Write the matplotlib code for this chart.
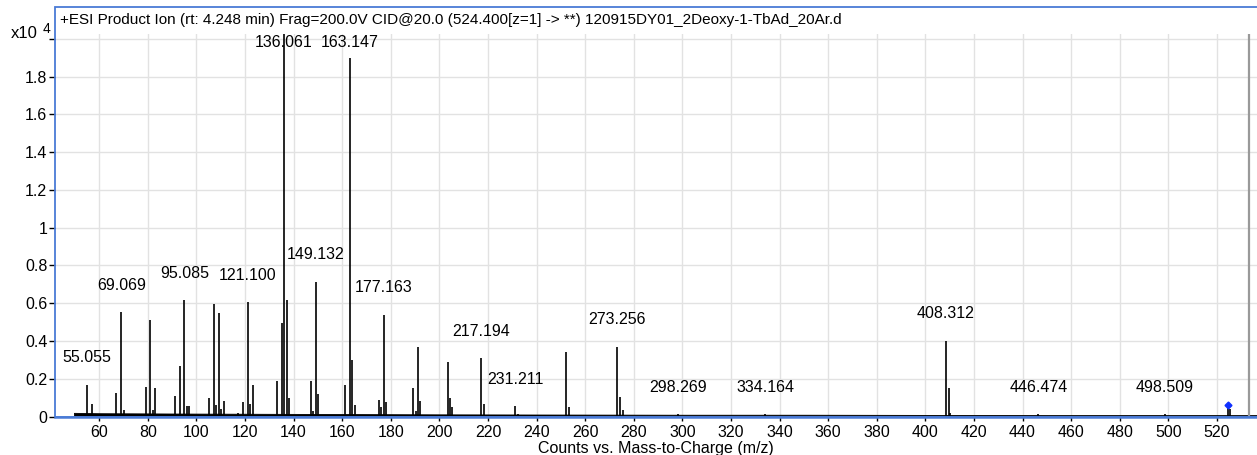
import matplotlib
matplotlib.use("Agg")
import matplotlib.pyplot as plt
from matplotlib.patches import Rectangle

plt.rcParams['font.family'] = ['Liberation Sans', 'DejaVu Sans']

# peak list (m/z, counts x10^4)
peak_mz = [55.055, 57.0, 67.0, 69.069, 70.1, 79.1, 81.0, 82.0, 83.1, 91.1, 93.1, 95.085,
           96.1, 97.1, 105.1, 107.1, 108.2, 109.2, 110.1, 111.2, 117.1, 119.1, 121.100,
           122.1, 123.2, 133.0, 135.1, 136.061, 137.2, 138.1, 147.2, 148.1, 149.132,
           150.2, 161.2, 163.147, 164.2, 165.1, 175.1, 176.1, 177.163, 178.1, 189.3,
           190.2, 191.2, 192.1, 203.4, 204.4, 205.3, 217.194, 218.2, 231.211, 232.3,
           252.2, 253.3, 273.256, 274.3, 275.4, 298.269, 334.164, 408.312, 409.6, 410.1,
           446.474, 498.509, 524.4, 525.4]
peak_int = [0.17, 0.066, 0.127, 0.553, 0.036, 0.157, 0.512, 0.036, 0.152, 0.107, 0.268, 0.616,
            0.057, 0.057, 0.096, 0.595, 0.062, 0.548, 0.04, 0.084, 0.02, 0.079, 0.604,
            0.066, 0.166, 0.186, 0.495, 2.03, 0.616, 0.10, 0.19, 0.03, 0.713,
            0.12, 0.17, 1.90, 0.30, 0.064, 0.09, 0.05, 0.54, 0.08, 0.15,
            0.03, 0.367, 0.083, 0.289, 0.097, 0.05, 0.31, 0.065, 0.056, 0.015,
            0.34, 0.05, 0.369, 0.106, 0.035, 0.012, 0.012, 0.402, 0.15, 0.02,
            0.012, 0.012, 0.055, 0.04]

labeled_mz = [55.055, 69.069, 95.085, 121.100, 136.061, 149.132, 163.147, 177.163,
              217.194, 231.211, 273.256, 298.269, 334.164, 408.312, 446.474, 498.509]

# baseline noise envelope
noise_mz = [49.6, 60, 100, 150, 200, 250, 300, 350, 400, 450, 500, 536.5]
noise_hi = [0.02, 0.018, 0.016, 0.014, 0.012, 0.011, 0.01, 0.01, 0.009, 0.008, 0.008, 0.008]

precursor_mz = 524.4
precursor_y = 0.06

title = "+ESI Product Ion (rt: 4.248 min) Frag=200.0V CID@20.0 (524.400[z=1] -> **) 120915DY01_2Deoxy-1-TbAd_20Ar.d"

W, H = 1257, 455
blue = '#4a7bd6'

fig = plt.figure(figsize=(W / 100, H / 100), dpi=100)
ax = fig.add_axes([55 / W, (H - 417) / H, (W - 55) / W, (417 - 34) / H])

ax.set_xlim(41.8, 536.5)
ax.set_ylim(-0.002, 2.025)

ax.fill_between(noise_mz, 0, noise_hi, color='black', lw=0.6)
ax.vlines(peak_mz, 0, peak_int, color='black', lw=1.2)
ax.plot([precursor_mz], [precursor_y], marker='D', ms=3.5, color='#1030ff', ls='none')
ax.axvline(533.2, color='#999999', lw=1.6)

lookup = dict(zip(peak_mz, peak_int))
for m in labeled_mz:
    y = min(lookup[m] + 0.143, 1.979)
    ax.text(m, y, f"{m:.3f}", ha='center', va='center', fontsize=11.5, color='black')

ax.set_xticks(range(60, 521, 20))
ax.set_yticks([0, 0.2, 0.4, 0.6, 0.8, 1.0, 1.2, 1.4, 1.6, 1.8, 2.0])
ax.set_yticklabels(['0', '0.2', '0.4', '0.6', '0.8', '1', '1.2', '1.4', '1.6', '1.8', ''])
ax.tick_params(axis='y', labelsize=11.5, length=4, width=1, pad=1.5, colors='black')
ax.tick_params(axis='x', labelsize=11.5, length=3, width=1, pad=2.5, colors='black')
ax.grid(True, color='#e2e2e2', lw=1)
ax.set_axisbelow(True)

for s in ['top', 'right', 'left']:
    ax.spines[s].set_visible(False)
ax.spines['bottom'].set_color(blue)
ax.spines['bottom'].set_linewidth(1.8)

# outer blue frame
fig.add_artist(Rectangle((55 / W, (H - 417) / H), 1.0, (417 - 7) / H,
                         transform=fig.transFigure, fill=False, ec=blue, lw=1.3))

fig.text(60 / W, 1 - 20 / H, title, fontsize=11, va='center', ha='left')
fig.text(11 / W, 1 - 33 / H, "x10", fontsize=12, va='center', ha='left')
fig.text(43 / W, 1 - 29 / H, "4", fontsize=10, va='center', ha='left')
fig.text(656 / W, 1 - 449 / H, "Counts vs. Mass-to-Charge (m/z)", fontsize=11.5,
         va='center', ha='center')

fig.savefig("out.png", dpi=100)
